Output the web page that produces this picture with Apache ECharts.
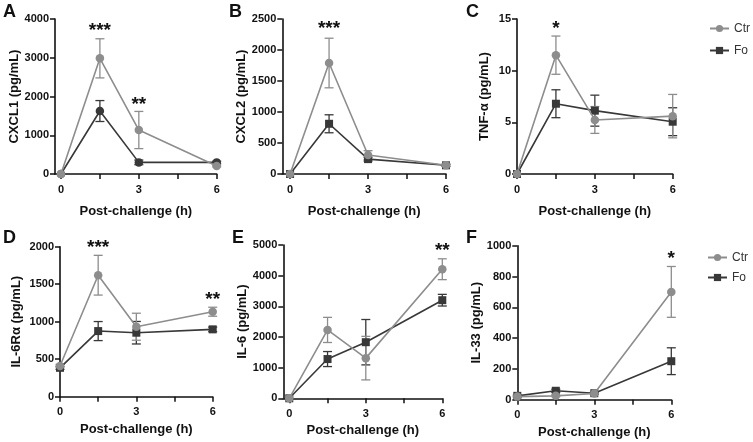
<!DOCTYPE html>
<html><head><meta charset="utf-8">
<script src="https://cdn.jsdelivr.net/npm/echarts@6/dist/echarts.min.js"></script>
<style>html,body{margin:0;padding:0;background:#fff}#c{width:753px;height:442px}</style>
</head><body><div id="c"></div>
<script>
// time points (h)
const hours = [0, 1.5, 3, 6];
const xTicks = [0, 1.5, 3, 4.5, 6];
const xLabels = [0, 3, 6];
const groups = ['Ctr', 'Fo'];

// A: CXCL1
const cxcl1Ctr = [0, 2985, 1135, 205];
const cxcl1CtrSem = [0, 505, 480, 20];
const cxcl1Fo = [0, 1625, 300, 300];
const cxcl1FoSem = [0, 270, 60, 30];
const cxcl1Stars = [[1.5, 3820, '***'], [3, 1910, '**']];
// B: CXCL2
const cxcl2Ctr = [0, 1790, 306, 140];
const cxcl2CtrSem = [0, 400, 70, 20];
const cxcl2Fo = [0, 810, 240, 140];
const cxcl2FoSem = [0, 145, 30, 15];
const cxcl2Stars = [[1.5, 2420, '***']];
// C: TNF-α
const tnfCtr = [0, 11.5, 5.23, 5.6];
const tnfCtrSem = [0, 1.85, 1.3, 2.1];
const tnfFo = [0, 6.8, 6.13, 5.06];
const tnfFoSem = [0, 1.35, 1.5, 1.35];
const tnfStars = [[1.5, 14.5, '*']];
// D: IL-6Rα
const il6rCtr = [410, 1620, 933, 1133];
const il6rCtrSem = [20, 265, 180, 60];
const il6rFo = [385, 875, 853, 898];
const il6rFoSem = [20, 127, 150, 30];
const il6rStars = [[1.5, 2050, '***'], [6, 1365, '**']];
// E: IL-6
const il6Ctr = [0, 2230, 1310, 4210];
const il6CtrSem = [0, 410, 710, 340];
const il6Fo = [0, 1280, 1830, 3200];
const il6FoSem = [0, 245, 740, 190];
const il6Stars = [[6, 4960, '**']];
// F: IL-33
const il33Ctr = [20, 25, 40, 700];
const il33CtrSem = [5, 5, 5, 165];
const il33Fo = [25, 58, 42, 250];
const il33FoSem = [5, 10, 5, 87];
const il33Stars = [[6, 950, '*']];

const panels = [
  {letter:'A', yName:'CXCL1 (pg/mL)', ctr:cxcl1Ctr, ctrSem:cxcl1CtrSem, fo:cxcl1Fo, foSem:cxcl1FoSem, foSymbol:'circle', yMax:4000, yInt:1000, stars:cxcl1Stars},
  {letter:'B', yName:'CXCL2 (pg/mL)', ctr:cxcl2Ctr, ctrSem:cxcl2CtrSem, fo:cxcl2Fo, foSem:cxcl2FoSem, foSymbol:'rect', yMax:2500, yInt:500, stars:cxcl2Stars},
  {letter:'C', yName:'TNF-α (pg/mL)', ctr:tnfCtr, ctrSem:tnfCtrSem, fo:tnfFo, foSem:tnfFoSem, foSymbol:'rect', yMax:15, yInt:5, stars:tnfStars},
  {letter:'D', yName:'IL-6Rα (pg/mL)', ctr:il6rCtr, ctrSem:il6rCtrSem, fo:il6rFo, foSem:il6rFoSem, foSymbol:'rect', yMax:2000, yInt:500, stars:il6rStars},
  {letter:'E', yName:'IL-6 (pg/mL)', ctr:il6Ctr, ctrSem:il6CtrSem, fo:il6Fo, foSem:il6FoSem, foSymbol:'rect', yMax:5000, yInt:1000, stars:il6Stars},
  {letter:'F', yName:'IL-33 (pg/mL)', ctr:il33Ctr, ctrSem:il33CtrSem, fo:il33Fo, foSem:il33FoSem, foSymbol:'rect', yMax:1000, yInt:200, stars:il33Stars}
];

// layout (pixels)
const layout = [
  {left:55, top:19, width:161.7, height:155, xMin:-0.23, nameGap:32, xGap:31, lx:3, ly:3},
  {left:282.3, top:19, width:163.7, height:155, xMin:-0.3, nameGap:32, xGap:31, lx:229, ly:3},
  {left:517, top:19, width:155.7, height:155, xMin:0, nameGap:26, xGap:31, lx:466, ly:3},
  {left:60, top:246.7, width:152.7, height:150, xMin:0, nameGap:37, xGap:26, lx:3, ly:229},
  {left:283.3, top:245, width:159, height:153.3, xMin:-0.235, nameGap:32, xGap:26, lx:232, ly:229},
  {left:517.3, top:245.7, width:154, height:154, xMin:0, nameGap:30, xGap:26, lx:466, ly:229}
];

const CTR = '#8d8d8d', FO = '#383838';
const FONT = '"Liberation Sans", Arial, sans-serif';

const grid = [], xAxis = [], yAxis = [], series = [], graphic = [];

function errRender(color) {
  return function (params, api) {
    const x = api.value(0), y = api.value(1), e = api.value(2);
    if (!e) return null;
    const t = api.coord([x, y + e]), b = api.coord([x, y - e]);
    const w = 4.5;
    const st = {stroke: color, lineWidth: 1.3};
    return {type: 'group', children: [
      {type: 'line', shape: {x1: t[0], y1: t[1], x2: b[0], y2: b[1]}, style: st},
      {type: 'line', shape: {x1: t[0] - w, y1: t[1], x2: t[0] + w, y2: t[1]}, style: st},
      {type: 'line', shape: {x1: b[0] - w, y1: b[1], x2: b[0] + w, y2: b[1]}, style: st}
    ]};
  };
}

// order so the legend picks square markers for Fo (panel A last)
const order = [1, 2, 3, 4, 5, 0];

panels.forEach((p, i) => {
  const L = layout[i];
  grid.push({left: L.left, top: L.top, width: L.width, height: L.height, containLabel: false});
  xAxis.push({
    type: 'value', gridIndex: i, min: L.xMin, max: 6,
    name: 'Post-challenge (h)', nameLocation: 'middle', nameGap: L.xGap,
    nameTextStyle: {fontFamily: FONT, fontWeight: 'bold', fontSize: 13, color: '#111'},
    axisLine: {show: true, onZero: false, lineStyle: {color: '#111', width: 1.6}},
    axisTick: {show: true, customValues: xTicks, length: 5, lineStyle: {color: '#111', width: 1.5}},
    axisLabel: {customValues: xLabels, margin: 10, fontFamily: FONT, fontWeight: 'bold', fontSize: 11, color: '#111'},
    splitLine: {show: false}
  });
  yAxis.push({
    type: 'value', gridIndex: i, min: 0, max: p.yMax, interval: p.yInt,
    name: p.yName, nameLocation: 'middle', nameGap: L.nameGap,
    nameTextStyle: {fontFamily: FONT, fontWeight: 'bold', fontSize: 13, color: '#111'},
    axisLine: {show: true, onZero: false, lineStyle: {color: '#111', width: 1.6}},
    axisTick: {show: true, length: 5, lineStyle: {color: '#111', width: 1.5}},
    axisLabel: {margin: 6, fontFamily: FONT, fontWeight: 'bold', fontSize: 11, color: '#111',
      formatter: v => String(v)},
    splitLine: {show: false}
  });
  graphic.push({type: 'text', left: L.lx, top: L.ly,
    style: {text: p.letter, fontFamily: FONT, fontWeight: 'bold', fontSize: 18, fill: '#111'}});
});

order.forEach(i => {
  const p = panels[i];
  series.push({type: 'custom', name: 'errFo' + i, xAxisIndex: i, yAxisIndex: i, clip: false, z: 2,
    data: hours.map((h, k) => [h, p.fo[k], p.foSem[k]]), renderItem: errRender(FO), encode: {x: 0, y: 1}});
  series.push({type: 'custom', name: 'errCtr' + i, xAxisIndex: i, yAxisIndex: i, clip: false, z: 2,
    data: hours.map((h, k) => [h, p.ctr[k], p.ctrSem[k]]), renderItem: errRender(CTR), encode: {x: 0, y: 1}});
  series.push({type: 'line', name: 'Fo', xAxisIndex: i, yAxisIndex: i, z: 3,
    data: hours.map((h, k) => [h, p.fo[k]]), symbol: p.foSymbol, symbolSize: p.foSymbol === 'rect' ? 8 : 8.5,
    showAllSymbol: true, animation: false,
    lineStyle: {color: FO, width: 1.6}, itemStyle: {color: FO}});
  series.push({type: 'line', name: 'Ctr', xAxisIndex: i, yAxisIndex: i, z: 4,
    data: hours.map((h, k) => [h, p.ctr[k]]), symbol: 'circle', symbolSize: 8.5,
    showAllSymbol: true, animation: false,
    lineStyle: {color: CTR, width: 1.6}, itemStyle: {color: CTR}});
  const stars = p.stars;
  series.push({type: 'custom', name: 'stars' + i, xAxisIndex: i, yAxisIndex: i, clip: false, z: 5,
    data: stars.map(s => [s[0], s[1]]), encode: {x: 0, y: 1},
    renderItem: function (params, api) {
      const c = api.coord([api.value(0), api.value(1)]);
      return {type: 'text', x: c[0], y: c[1] + 5,
        style: {text: stars[params.dataIndex][2], fontFamily: FONT, fontWeight: 'bold', fontSize: 19,
          fill: '#111', align: 'center', verticalAlign: 'middle'}};
    }});
});

const legendBase = {
  orient: 'vertical', itemWidth: 19, itemHeight: 9, padding: 0, itemGap: 10,
  textStyle: {fontFamily: FONT, fontSize: 12, color: '#333'},
  data: groups, selectedMode: false
};
const option = {
  animation: false,
  backgroundColor: '#fff',
  grid, xAxis, yAxis, series, graphic,
  legend: [
    Object.assign({}, legendBase, {left: 709, top: 22.5, itemGap: 10}),
    Object.assign({}, legendBase, {left: 707, top: 251.5, itemGap: 8})
  ]
};
const chart = echarts.init(document.getElementById('c'), null, {renderer: 'canvas'});
chart.setOption(option);
</script></body></html>
